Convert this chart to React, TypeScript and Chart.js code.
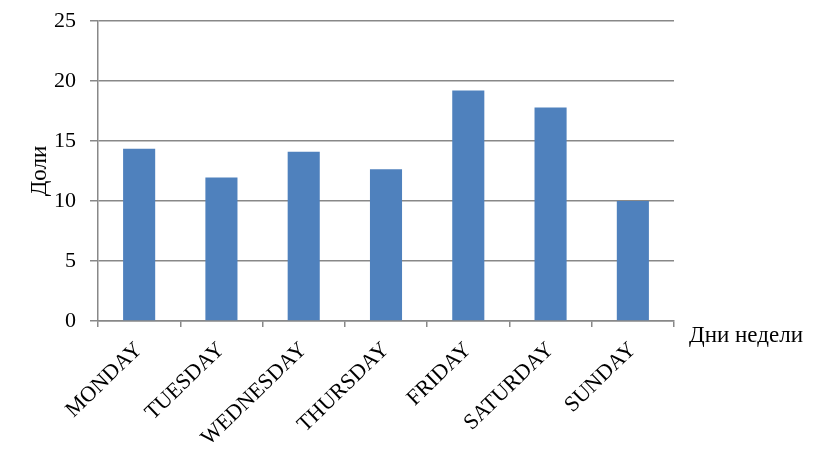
import React, { useEffect, useRef } from "react";
import { Chart, registerables } from "chart.js";

Chart.register(...registerables);

const categories = ["MONDAY", "TUESDAY", "WEDNESDAY", "THURSDAY", "FRIDAY", "SATURDAY", "SUNDAY"];
const shares = [14.35, 11.95, 14.1, 12.65, 19.2, 17.8, 10.0];
const yTitle = "Доли";
const xTitle = "Дни недели";
const yMin = 0;
const yMax = 25;
const yStep = 5;

const FONT = "'Liberation Serif', 'Times New Roman', serif";
const GRID = "#888888";

const xTitlePlugin = {
  id: "xTitleRight",
  afterDraw(chart: any) {
    const { ctx, chartArea } = chart;
    ctx.save();
    ctx.font = `23px ${FONT}`;
    ctx.fillStyle = "#000";
    ctx.textAlign = "left";
    ctx.textBaseline = "middle";
    ctx.fillText(xTitle, chartArea.right + 15, chartArea.bottom + 15);
    ctx.restore();
  },
};

export default function App() {
  const ref = useRef<HTMLCanvasElement | null>(null);
  useEffect(() => {
    if (!ref.current) return;
    const chart = new Chart(ref.current, {
      type: "bar",
      data: {
        labels: categories,
        datasets: [
          {
            data: shares,
            backgroundColor: "#4F81BD",
            borderWidth: 0,
            categoryPercentage: 1,
            barPercentage: 0.39,
          },
        ],
      },
      options: {
        responsive: false,
        animation: false,
        layout: { padding: { left: 0, top: 21, right: 149, bottom: 0 } },
        plugins: { legend: { display: false }, tooltip: { enabled: false } },
        scales: {
          x: {
            grid: {
              display: true,
              drawOnChartArea: false,
              drawTicks: true,
              tickLength: 6,
              color: GRID,
              lineWidth: 1.5,
              offset: true,
            },
            border: { display: true, color: GRID, width: 1.5 },
            ticks: {
              color: "#000",
              font: { family: FONT, size: 22 },
              minRotation: 44,
              maxRotation: 44,
              autoSkip: false,
              padding: 10,
            },
            afterFit(scale: any) {
              scale.height = 147;
              scale.paddingLeft = 0;
              scale.paddingRight = 0;
            },
          },
          y: {
            min: yMin,
            max: yMax,
            ticks: {
              stepSize: yStep,
              color: "#000",
              font: { family: FONT, size: 22 },
              padding: 14,
            },
            grid: {
              color: GRID,
              lineWidth: 1.5,
              tickLength: 8,
              drawTicks: true,
            },
            border: { display: true, color: GRID, width: 1.5 },
            title: {
              display: true,
              text: yTitle,
              color: "#000",
              font: { family: FONT, size: 23 },
              padding: { top: 26, bottom: 0 },
            },
            afterFit(scale: any) {
              scale.width = 98;
              scale.paddingTop = 0;
              scale.paddingBottom = 0;
            },
          },
        },
      },
      plugins: [xTitlePlugin],
    });
    return () => chart.destroy();
  }, []);
  return (
    <div style={{ position: "absolute", left: 0, top: 0, width: 823, height: 468, background: "#fff" }}>
      <canvas ref={ref} width={823} height={468} style={{ display: "block" }} />
    </div>
  );
}
